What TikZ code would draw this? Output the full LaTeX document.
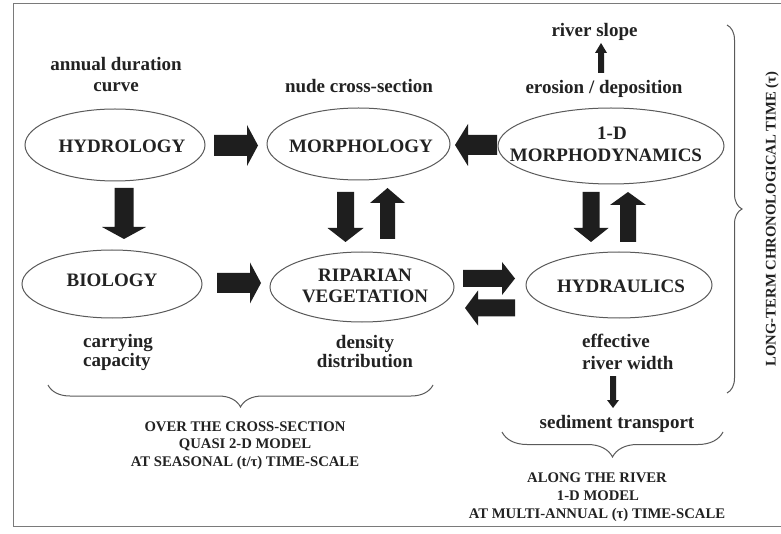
\documentclass[tikz,border=0pt]{standalone}
\usepackage{fontspec}
\setmainfont{Liberation Serif}
\usetikzlibrary{calc,shapes.geometric,decorations.pathreplacing}
\definecolor{inkc}{HTML}{222222}
\definecolor{linec}{HTML}{5A5A5A}
\definecolor{framec}{HTML}{7A7A7A}
\definecolor{blockc}{HTML}{1E1E1E}
\tikzset{
  ell/.style={ellipse, draw=linec, line width=1pt, inner sep=0pt},
  lbl/.style={font=\fontsize{19}{22}\selectfont\bfseries, text=inkc, inner sep=0pt, anchor=base},
  caps/.style={font=\fontsize{14.7}{17}\selectfont\bfseries, text=inkc, inner sep=0pt, anchor=base},
  blockfill/.style={fill=blockc, draw=none},
  bracec/.style={draw=linec, line width=1pt, decorate},
}
% #1 name, #2 tail, #3 tip, #4 shaft half width, #5 head half width, #6 head length
\newcommand\barrow[6]{%
  \coordinate (#1-t) at (#2);
  \coordinate (#1-p) at (#3);
  \coordinate (#1-b) at ($(#1-p)!#6pt!(#1-t)$);
  \fill[blockfill] ($(#1-t)!#4pt!90:(#1-p)$) -- ($(#1-b)!#4pt!90:(#1-p)$) --
    ($(#1-b)!#5pt!90:(#1-p)$) -- (#1-p) -- ($(#1-b)!#5pt!-90:(#1-p)$) --
    ($(#1-b)!#4pt!-90:(#1-p)$) -- ($(#1-t)!#4pt!-90:(#1-p)$) -- cycle;}
\begin{document}
\begin{tikzpicture}[x=1pt,y=-1pt]
\useasboundingbox (0,0) rectangle (781,534);
\fill[white] (0,0) rectangle (781,534);
% frame
\draw[framec, line width=1.2pt] (790,3.5) -- (13.5,3.5) -- (13.5,526.5) -- (790,526.5);

% ellipses
\node[ell, minimum width=180pt, minimum height=72pt] (hydro) at (115,145) {};
\node[ell, minimum width=183pt, minimum height=72pt] (morph) at (358.5,144) {};
\node[ell, minimum width=226pt, minimum height=76pt] (mdyn) at (611,146) {};
\node[ell, minimum width=180pt, minimum height=68pt] (bio) at (112,284) {};
\node[ell, minimum width=184pt, minimum height=70pt] (rip) at (362,287) {};
\node[ell, minimum width=186pt, minimum height=66pt] (hyd) at (619,285) {};

% ellipse labels
\node[lbl] (thydro) at (122,153) {HYDROLOGY};
\node[lbl] (tmorph) at (361,153) {MORPHOLOGY};
\node[lbl] (tmdyn1) at (612,140) {1-D};
\node[lbl] (tmdyn2) at (606,161.5) {MORPHODYNAMICS};
\node[lbl] (tbio) at (112,287) {BIOLOGY};
\node[lbl] (trip1) at (365,282) {RIPARIAN};
\node[lbl] (trip2) at (365,302) {VEGETATION};
\node[lbl] (thyd) at (621,293) {HYDRAULICS};

% side labels
\node[lbl] (adc1) at (116,71) {annual duration};
\node[lbl] (adc2) at (116,92) {curve};
\node[lbl] (ncs) at (359,93) {nude cross-section};
\node[lbl] (rs) at (594.5,37) {river slope};
\node[lbl] (ed) at (604,94) {erosion / deposition};
\node[lbl, anchor=base west] (cc1) at (83,347) {carrying};
\node[lbl, anchor=base west] (cc2) at (83,366.5) {capacity};
\node[lbl] (dd1) at (365,348) {density};
\node[lbl] (dd2) at (365,367) {distribution};
\node[lbl, anchor=base west] (erw1) at (582,347) {effective};
\node[lbl, anchor=base west] (erw2) at (582,369) {river width};
\node[lbl] (st) at (617,428) {sediment transport};

% block arrows
\barrow{a1}{214,145.5}{258,145.5}{10.5}{20.5}{11}
\barrow{a2}{124,188}{124,239}{9.5}{22}{12}
\barrow{a3}{345.5,192}{345.5,242}{8.5}{18}{14}
\barrow{a4}{387.5,239}{387.5,188}{7.5}{17.5}{15}
\barrow{a5}{497,145}{455,145}{10}{21}{13}
\barrow{a6}{591,192}{591,242}{8.5}{17.5}{14}
\barrow{a7}{628,242}{628,192}{8}{18}{13}
\barrow{a8}{601,73}{601,43}{3}{6}{10}
\barrow{a9}{217,283}{261,283}{10}{20.5}{11}
\barrow{a10}{463,278.5}{515,278.5}{8.5}{16.5}{13}
\barrow{a11}{515,308}{465,308}{8.5}{17.5}{13}
\barrow{a12}{613,376}{613,408}{3}{6}{8}

% braces
\coordinate (b1l) at (48,385);
\coordinate (b1r) at (433,385);
\draw[bracec, decoration={brace, mirror, amplitude=22pt}] (b1l) -- (b1r);
\coordinate (b2l) at (502,432);
\coordinate (b2r) at (723,432);
\draw[bracec, decoration={brace, mirror, amplitude=25pt}] (b2l) -- (b2r);
\coordinate (b3t) at (727,25);
\coordinate (b3b) at (727,393);
\draw[bracec, decoration={brace, amplitude=15pt}] (b3t) -- (b3b);

% bottom captions
\node[caps] (c11) at (245,431.5) {OVER THE CROSS-SECTION};
\node[caps] (c12) at (245,448.5) {QUASI 2-D MODEL};
\node[caps] (c13) at (245,466.5) {AT SEASONAL (t/τ) TIME-SCALE};
\node[caps] (c21) at (597,482.5) {ALONG THE RIVER};
\node[caps] (c22) at (598,500) {1-D MODEL};
\node[caps] (c23) at (597,518) {AT MULTI-ANNUAL (τ) TIME-SCALE};
\node[caps, anchor=center, rotate=90] (c3) at (772,219) {LONG-TERM CHRONOLOGICAL TIME (τ)};
\end{tikzpicture}
\end{document}
